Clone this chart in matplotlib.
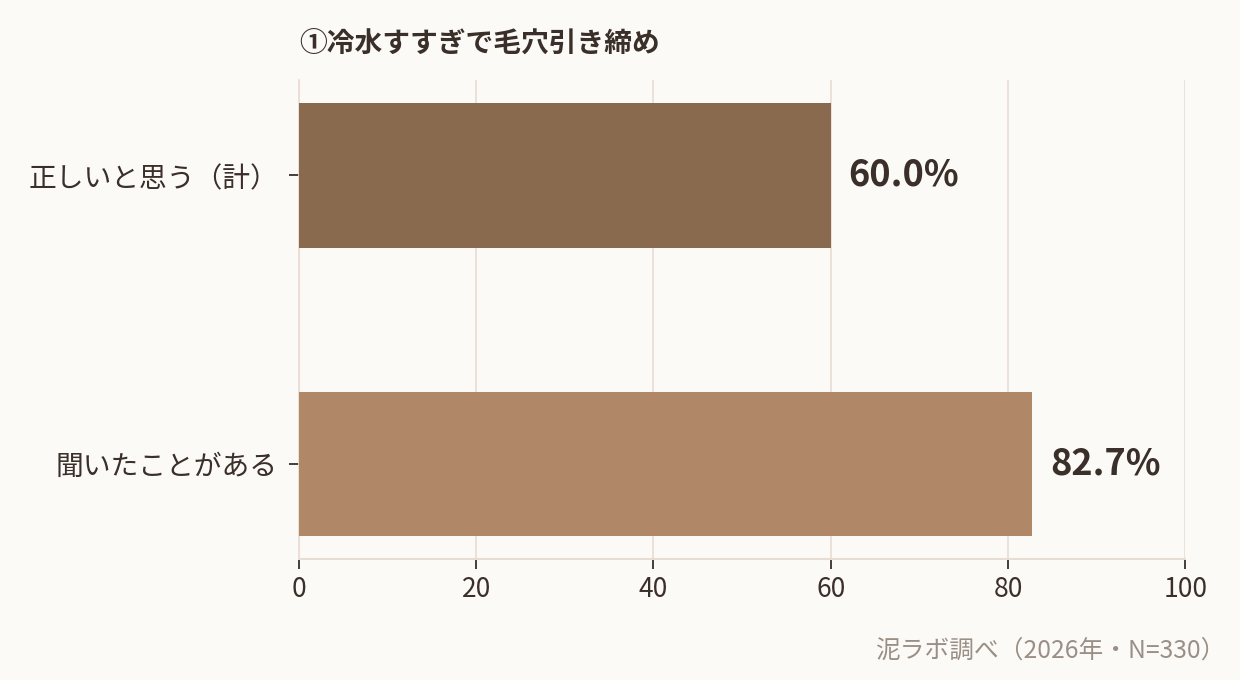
import matplotlib
matplotlib.use("Agg")
import matplotlib.pyplot as plt

plt.rcParams['font.family'] = ['Noto Sans CJK JP', 'DejaVu Sans']

categories = ["正しいと思う（計）", "聞いたことがある"]
values = [60.0, 82.7]
bar_colors = ["#8A6A4E", "#B08868"]
xticks = [0, 20, 40, 60, 80, 100]

bg = "#FCFAF7"
text_c = "#3A2F29"
grid_c = "#E9DDD3"

fig = plt.figure(figsize=(12.4, 6.8), dpi=100, facecolor=bg)
ax = fig.add_axes([0.241, 0.178, 0.715, 0.704], facecolor=bg)

ypos = list(range(len(categories)))
ax.barh(ypos, values, height=0.5, color=bar_colors, zorder=3)

for y, v in zip(ypos, values):
    ax.text(v + 2.0, y, f"{v:.1f}%", va="center", ha="left",
            fontsize=26, fontweight="bold", color=text_c)

ax.set_xlim(0, 100)
ax.set_ylim(1.33, -0.33)
ax.set_xticks(xticks)
ax.set_yticks(ypos)
ax.set_yticklabels(categories)
ax.tick_params(axis="x", labelsize=19, colors=text_c, length=7, width=1.3, pad=5)
ax.tick_params(axis="y", labelsize=20, colors=text_c, length=7, width=1.3, pad=8)

ax.grid(axis="x", color=grid_c, linewidth=1.2, zorder=0)
for s in ["top", "right"]:
    ax.spines[s].set_visible(False)
ax.spines["left"].set_color(grid_c)
ax.spines["bottom"].set_color(grid_c)
ax.spines["left"].set_linewidth(1.2)
ax.spines["bottom"].set_linewidth(1.5)

fig.text(0.241, 0.936, "①冷水すすぎで毛穴引き締め", fontsize=20, fontweight="bold",
         color=text_c, ha="left", va="center")
fig.text(0.988, 0.043, "泥ラボ調べ（2026年・N=330）", fontsize=17.8,
         color="#9A8F86", ha="right", va="center")

fig.savefig("out.png", dpi=100, facecolor=bg)
